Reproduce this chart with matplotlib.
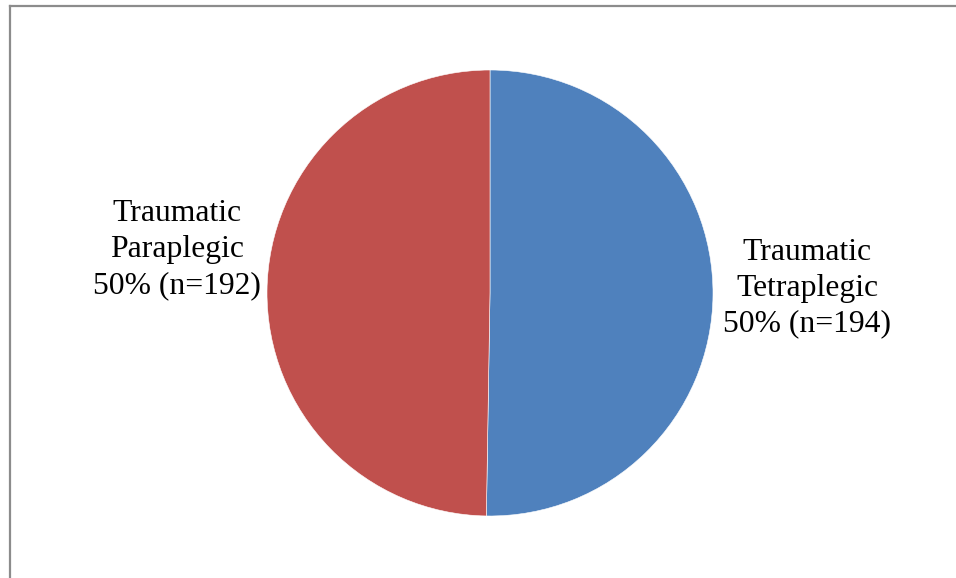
import matplotlib
matplotlib.use("Agg")
import matplotlib.pyplot as plt
from matplotlib.lines import Line2D

# Injury groups and patient counts
groups = ["Traumatic\nTetraplegic", "Traumatic\nParaplegic"]
counts = [194, 192]
colors = ["#4F81BD", "#C0504D"]

W, H, DPI = 956, 578, 100
cx, cy, r = 490, 285, 223  # pie centre (pixels from bottom-left) and radius

fig = plt.figure(figsize=(W / DPI, H / DPI), dpi=DPI)
ax = fig.add_axes([0, 0, 1, 1])

ax.pie(counts, colors=colors, startangle=90, counterclock=False, radius=1,
       wedgeprops=dict(edgecolor="white", linewidth=0.4))

# pie() resets the limits, so set them afterwards
ax.set_aspect("auto")
ax.set_xlim(-cx / r, (W - cx) / r)
ax.set_ylim(-cy / r, (H - cy) / r)
ax.axis("off")

total = sum(counts)
label_pos = [(1.422, 0.022), (-1.404, 0.195)]
for name, n, (x, y) in zip(groups, counts, label_pos):
    ax.text(x, y, f"{name}\n{round(100 * n / total)}% (n={n})",
            ha="center", va="center", fontsize=22.8, linespacing=1.31,
            family="Liberation Serif", color="black")

# chart area border (top and left edges visible)
fig.add_artist(Line2D([10 / W, 1], [1 - 5.5 / H, 1 - 5.5 / H],
                      transform=fig.transFigure, color="#8c8c8c", lw=1.6))
fig.add_artist(Line2D([10 / W, 10 / W], [0, 1 - 5.5 / H],
                      transform=fig.transFigure, color="#8c8c8c", lw=1.6))

fig.savefig("out.png", dpi=DPI, facecolor="white")
